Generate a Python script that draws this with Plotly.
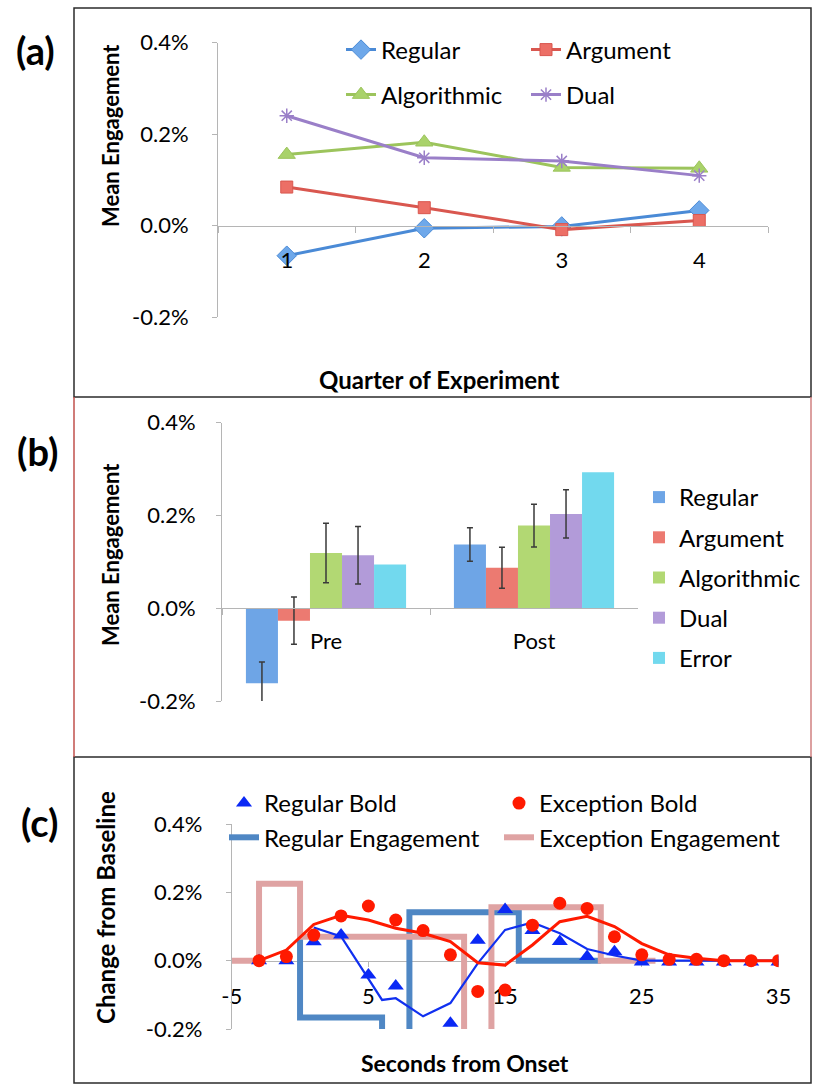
import plotly.graph_objects as go

W, H = 813, 1084

# ---------------- data ----------------
# Panel (a)
quarters = ["1", "2", "3", "4"]
a_regular = [-0.066, -0.006, -0.002, 0.033]
a_argument = [0.084, 0.039, -0.009, 0.011]
a_algorithmic = [0.155, 0.182, 0.127, 0.125]
a_dual = [0.240, 0.148, 0.141, 0.109]

# Panel (b)
phases = ["Pre", "Post"]
b_regular = [-0.162, 0.137]
b_regular_err = [0.046, 0.036]
b_argument = [-0.027, 0.087]
b_argument_err = [0.051, 0.044]
b_algorithmic = [0.119, 0.178]
b_algorithmic_err = [0.064, 0.046]
b_dual = [0.114, 0.203]
b_dual_err = [0.062, 0.052]
b_error = [0.094, 0.293]

# Panel (c)
seconds = [-3, -1, 1, 3, 5, 7, 9, 11, 13, 15, 17, 19, 21, 23, 25, 27, 29, 31, 33, 35]
regular_bold = [0.0, 0.0, 0.055, 0.075, -0.042, -0.074, -0.24, -0.183, 0.060, 0.150,
                0.088, 0.056, 0.012, 0.026, -0.004, -0.004, -0.004, -0.004, -0.004, -0.004]
exception_bold = [0.0, 0.012, 0.075, 0.131, 0.160, 0.119, 0.088, 0.017, -0.090, -0.086,
                  0.104, 0.168, 0.153, 0.070, 0.017, 0.004, 0.004, 0.0, 0.0, 0.0]
regular_fit_t = [1, 3, 6, 7, 9, 11, 13, 15, 17, 19, 21, 23, 25, 27, 29, 31, 33, 35]
regular_fit = [0.097, 0.071, -0.115, -0.110, -0.163, -0.124, -0.008, 0.090, 0.112, 0.080,
               0.034, 0.015, 0.0, 0.0, 0.0, 0.0, 0.0, 0.0]
exception_fit = [0.0, 0.031, 0.106, 0.133, 0.119, 0.095, 0.080, 0.056, -0.006, -0.013,
                 0.046, 0.114, 0.130, 0.100, 0.050, 0.017, 0.007, 0.0, 0.0, 0.0]
regular_eng_t = [0, 0, 6, 6, 8, 8, 16, 16, 22]
regular_eng = [0.07, -0.166, -0.166, -0.35, -0.35, 0.142, 0.142, 0.0, 0.0]
exception_eng_t = [-5, -3, -3, 0, 0, 12, 12, 14, 14, 22, 22, 26]
exception_eng = [0.0, 0.0, 0.225, 0.225, 0.07, 0.07, -0.35, -0.35, 0.156, 0.156, 0.0, 0.0]

pct_ticks = [-0.2, 0.0, 0.2, 0.4]
pct_labels = ["-0.2%", "0.0%", "0.2%", "0.4%"]
sec_ticks = [-5, 5, 15, 25, 35]
sec_labels = ["-5", "5", "15", "25", "35"]

# ---------------- helpers ----------------
def X(px):
    return px / W


def Y(py):
    return 1 - py / H


FONT = "Lato"
TXT = dict(family=FONT, size=24, color="#000000")
TICK = dict(family=FONT, size=22, color="#000000")
AXC = "#b5b5b5"
YMIN, YMAX = -0.2, 0.4

dom_a = [Y(317), Y(42.5)]
dom_b = [Y(701), Y(422.5)]
dom_c = [Y(1029), Y(824)]


def zero_pos(dom):
    return dom[0] + (dom[1] - dom[0]) * (0 - YMIN) / (YMAX - YMIN)


def yax(dom, xname, standoff):
    return dict(domain=dom, range=[YMIN, YMAX], tickvals=pct_ticks, ticktext=pct_labels,
                showline=True, linecolor=AXC, linewidth=1, ticks="outside", ticklen=5,
                tickcolor=AXC, showgrid=False, zeroline=False, anchor=xname,
                tickfont=TICK, ticklabelstandoff=standoff, fixedrange=True, automargin=False)


fig = go.Figure()

# ---------------- panel (a) ----------------
a_specs = [
    ("Regular", a_regular, "#4a8ad6", "diamond", "#6ea8ea", 15, "legend"),
    ("Argument", a_argument, "#d9574f", "square", "#ec6f66", 12, "legend"),
    ("Algorithmic", a_algorithmic, "#9cc45c", "triangle-up", "#a9d26a", 15, "legend2"),
    ("Dual", a_dual, "#9a7fc8", "asterisk-open", "#9a7fc8", 12, "legend2"),
]
for name, vals, col, sym, mcol, msz, leg in a_specs:
    marker = dict(symbol=sym, size=msz, color=mcol, line=dict(color=col, width=1))
    if sym == "asterisk-open":
        marker = dict(symbol=sym, size=msz, color=col, line=dict(color=col, width=1.5))
    fig.add_trace(go.Scatter(x=quarters, y=vals, name=name, mode="lines+markers",
                             line=dict(color=col, width=3), marker=marker,
                             xaxis="x", yaxis="y", legend=leg))

# ---------------- panel (b) ----------------
b_specs = [
    ("Regular", b_regular, b_regular_err, "#6ea5e6"),
    ("Argument", b_argument, b_argument_err, "#ec7a71"),
    ("Algorithmic", b_algorithmic, b_algorithmic_err, "#b2d873"),
    ("Dual", b_dual, b_dual_err, "#b29bd9"),
    ("Error", b_error, None, "#72d9ee"),
]
for i, (name, vals, err, col) in enumerate(b_specs):
    kw = {}
    if err is not None:
        kw["error_y"] = dict(type="data", array=err, visible=True, color="#3a3a3a",
                             thickness=1.5, width=3)
    fig.add_trace(go.Bar(x=phases, y=vals, name=name, marker=dict(color=col, line=dict(width=0)),
                         xaxis="x2", yaxis="y2", legend="legend3", legendgroup="b%d" % i, **kw))

# ---------------- panel (c) ----------------
fig.add_trace(go.Scatter(x=regular_eng_t, y=regular_eng, name="Regular Engagement", mode="lines",
                         line=dict(color="#4f87c4", width=6), xaxis="x3", yaxis="y3",
                         legend="legend4", legendrank=2))
fig.add_trace(go.Scatter(x=exception_eng_t, y=exception_eng, name="Exception Engagement",
                         mode="lines", line=dict(color="#dfa3a3", width=6), xaxis="x3",
                         yaxis="y3", legend="legend5", legendrank=2))
fig.add_trace(go.Scatter(x=regular_fit_t, y=regular_fit, name="Regular fit", mode="lines",
                         line=dict(color="#1030f0", width=2.2), xaxis="x3", yaxis="y3",
                         showlegend=False))
fig.add_trace(go.Scatter(x=seconds, y=regular_bold, name="Regular Bold", mode="markers",
                         marker=dict(symbol="triangle-up", size=14, color="#0a28f5"),
                         xaxis="x3", yaxis="y3", legend="legend4", legendrank=1))
fig.add_trace(go.Scatter(x=seconds, y=exception_fit, name="Exception fit", mode="lines",
                         line=dict(color="#ff1a00", width=3), xaxis="x3", yaxis="y3",
                         showlegend=False))
fig.add_trace(go.Scatter(x=seconds, y=exception_bold, name="Exception Bold", mode="markers",
                         marker=dict(symbol="circle", size=13, color="#ff1a00"),
                         xaxis="x3", yaxis="y3", legend="legend5", legendrank=1))

# ---------------- layout ----------------
leg_common = dict(font=TXT, bgcolor="rgba(0,0,0,0)", borderwidth=0, itemclick=False,
                  itemdoubleclick=False, itemwidth=30, xanchor="left")

fig.update_layout(
    width=W, height=H, autosize=False,
    margin=dict(l=0, r=0, t=0, b=0, pad=0, autoexpand=False),
    paper_bgcolor="white", plot_bgcolor="rgba(0,0,0,0)",
    font=TXT,
    barmode="group", bargap=0.23, bargroupgap=0,
    xaxis=dict(domain=[X(218), X(768)], type="category", categoryorder="array",
               categoryarray=quarters, range=[-0.5, 3.5], anchor="free",
               position=zero_pos(dom_a), showline=True, linecolor=AXC, ticks="outside",
               tickson="boundaries", ticklen=6, tickcolor=AXC, showgrid=False,
               zeroline=False, tickfont=TICK, ticklabelstandoff=15, fixedrange=True,
               automargin=False),
    yaxis=yax(dom_a, "x", 19),
    xaxis2=dict(domain=[X(222), X(638)], type="category", categoryorder="array",
                categoryarray=phases, range=[-0.5, 1.5], anchor="free",
                position=zero_pos(dom_b), showline=True, linecolor=AXC, ticks="outside",
                tickson="boundaries", ticklen=6, tickcolor=AXC, showgrid=False,
                zeroline=False, tickfont=dict(family=FONT, size=22, color="#000"),
                ticklabelstandoff=13, fixedrange=True, automargin=False),
    yaxis2=yax(dom_b, "x2", 16),
    xaxis3=dict(domain=[X(231.7), X(778.5)], range=[-5, 35], tickvals=sec_ticks,
                ticktext=sec_labels, anchor="free", position=zero_pos(dom_c), showline=True,
                linecolor=AXC, ticks="outside", ticklen=5, tickcolor=AXC, showgrid=False,
                zeroline=False, tickfont=TICK, ticklabelstandoff=11, layer="below traces",
                fixedrange=True, automargin=False),
    yaxis3=yax(dom_c, "x3", 19),
    legend=dict(orientation="h", x=X(341), y=Y(50), yanchor="middle", entrywidth=140,
                traceorder="normal", **leg_common),
    legend2=dict(orientation="h", x=X(341), y=Y(95), yanchor="middle", entrywidth=140,
                 traceorder="normal", **leg_common),
    legend3=dict(orientation="v", x=X(639), y=Y(475), yanchor="top", tracegroupgap=6,
                 traceorder="grouped", **leg_common),
    legend4=dict(orientation="v", x=X(224), y=Y(781), yanchor="top", tracegroupgap=0,
                 traceorder="normal", **leg_common),
    legend5=dict(orientation="v", x=X(499), y=Y(781), yanchor="top", tracegroupgap=0,
                 traceorder="normal", **leg_common),
)

# panel frames
fig.add_shape(type="rect", xref="paper", yref="paper", x0=X(74), x1=X(811), y0=Y(397), y1=Y(8),
              line=dict(color="#2b2b2b", width=1.5), layer="below")
fig.add_shape(type="line", xref="paper", yref="paper", x0=X(74), x1=X(74), y0=Y(757), y1=Y(397),
              line=dict(color="#c0504d", width=1.5))
fig.add_shape(type="line", xref="paper", yref="paper", x0=X(811), x1=X(811), y0=Y(757), y1=Y(397),
              line=dict(color="#d08080", width=1.5))
fig.add_shape(type="rect", xref="paper", yref="paper", x0=X(74), x1=X(811), y0=Y(1083), y1=Y(757),
              line=dict(color="#2b2b2b", width=1.5), layer="below")

# panel letters and axis titles
LET = dict(family=FONT, size=38, color="#000", weight="bold")
annots = [
    dict(text="(a)", x=X(35), y=Y(50), font=LET),
    dict(text="(b)", x=X(37), y=Y(451), font=LET),
    dict(text="(c)", x=X(39), y=Y(822), font=LET),
    dict(text="Mean Engagement", x=X(111), y=Y(136), textangle=-90,
         font=dict(family=FONT, size=22, color="#000", weight="bold")),
    dict(text="Mean Engagement", x=X(110), y=Y(555), textangle=-90,
         font=dict(family=FONT, size=22, color="#000", weight="bold")),
    dict(text="Change from Baseline", x=X(105), y=Y(908), textangle=-90,
         font=dict(family=FONT, size=24, color="#000", weight="bold")),
    dict(text="Quarter of Experiment", x=X(439), y=Y(379),
         font=dict(family=FONT, size=24, color="#000", weight="bold")),
    dict(text="Seconds from Onset", x=X(465), y=Y(1063),
         font=dict(family=FONT, size=23, color="#000", weight="bold")),
]
for a in annots:
    fig.add_annotation(xref="paper", yref="paper", xanchor="center", yanchor="middle",
                       showarrow=False, **a)

fig.write_html("out.html", config={"displayModeBar": False},
               post_script="document.body.style.margin='0';")
